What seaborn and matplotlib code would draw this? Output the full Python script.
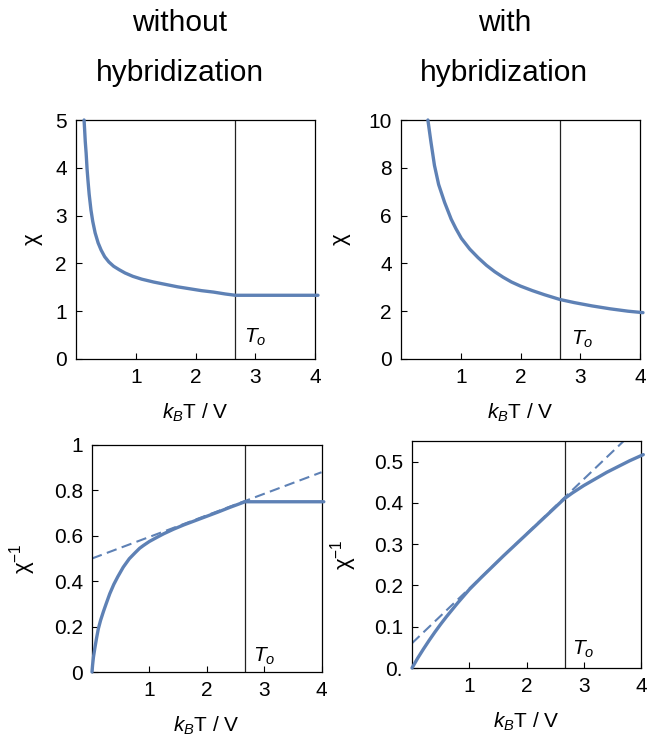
import numpy as np
import matplotlib
matplotlib.use('Agg')
import matplotlib.pyplot as plt
import seaborn as sns

# ------------------------------------------------------------
# Values
# ------------------------------------------------------------
T_O = 2.667

# chi, without hybridization (top left)
t_chi_wo = [0.135, 0.145, 0.155, 0.17, 0.185, 0.2, 0.22, 0.25, 0.28, 0.32,
            0.37, 0.42, 0.48, 0.55, 0.63, 0.72, 0.82, 0.95, 1.1, 1.3,
            1.5, 1.7, 1.9, 2.1, 2.3, 2.5, 2.667, 3.2, 4.05]
chi_wo = [5.0, 4.78, 4.55, 4.3, 3.98, 3.74, 3.45, 3.12, 2.88, 2.64,
          2.43, 2.28, 2.14, 2.03, 1.94, 1.87, 1.8, 1.73, 1.67, 1.61,
          1.56, 1.51, 1.47, 1.43, 1.40, 1.36, 1.333, 1.333, 1.333]

# chi, with hybridization (top right)
t_chi_w = [0.45, 0.5, 0.56, 0.63, 0.73, 0.84, 0.92, 1.01, 1.15, 1.29,
           1.43, 1.57, 1.71, 1.85, 2.0, 2.2, 2.4, 2.66, 2.9, 3.2,
           3.5, 3.8, 4.05]
chi_w = [10.0, 9.1, 8.1, 7.3, 6.55, 5.85, 5.45, 5.05, 4.6, 4.24,
         3.92, 3.65, 3.42, 3.22, 3.05, 2.86, 2.69, 2.49, 2.36, 2.22,
         2.1, 2.0, 1.94]

# inverse chi, without hybridization (bottom left)
t_inv_wo = [0, 0.01, 0.025, 0.05, 0.08, 0.11, 0.15, 0.2, 0.25, 0.31,
            0.38, 0.45, 0.545, 0.65, 0.75, 0.83, 0.9, 1.0, 1.13, 1.25,
            1.42, 1.6, 1.8, 2.0, 2.2, 2.4, 2.667, 3.2, 4.04]
inv_wo = [0, 0.03, 0.065, 0.106, 0.15, 0.19, 0.228, 0.267, 0.303, 0.345,
          0.386, 0.42, 0.462, 0.499, 0.525, 0.545, 0.558, 0.575, 0.593, 0.609,
          0.629, 0.648, 0.667, 0.686, 0.705, 0.725, 0.75, 0.75, 0.75]
t_fit_wo = [0, 4]
fit_wo = [0.5, 0.88]

# inverse chi, with hybridization (bottom right)
t_inv_w = [0, 0.1, 0.2, 0.3, 0.4, 0.5, 0.6, 0.7, 0.8, 0.9,
           1.0, 1.2, 1.4, 1.6, 1.8, 2.0, 2.2, 2.4, 2.66, 2.8,
           3.0, 3.2, 3.4, 3.6, 3.8, 4.04]
inv_w = [0, 0.024, 0.046, 0.067, 0.087, 0.106, 0.124, 0.141, 0.158, 0.174,
         0.19, 0.218, 0.245, 0.272, 0.298, 0.324, 0.35, 0.376, 0.41, 0.424,
         0.442, 0.458, 0.474, 0.488, 0.502, 0.517]
t_fit_w = [0, 4]
fit_w = [0.06, 0.59]

X_TICKS = [1, 2, 3, 4]

BLUE = '#5E81B5'

sns.set_theme(style='ticks')
plt.rcParams['font.family'] = ['Liberation Sans', 'DejaVu Sans']
plt.rcParams['mathtext.fontset'] = 'custom'
plt.rcParams['mathtext.rm'] = 'Liberation Sans'
plt.rcParams['mathtext.it'] = 'Liberation Sans:italic'
plt.rcParams['axes.linewidth'] = 0.9
plt.rcParams['axes.edgecolor'] = 'black'
plt.rcParams['text.color'] = 'black'
plt.rcParams['axes.labelcolor'] = 'black'

fig = plt.figure(figsize=(6.55, 7.38), dpi=100)

W, H = 655, 738
def box(l, t, r, b):
    return [l / W, (H - b) / H, (r - l) / W, (b - t) / H]

ax_tl = fig.add_axes(box(76, 120, 315, 359))
ax_tr = fig.add_axes(box(401, 120, 640, 359))
ax_bl = fig.add_axes(box(92, 445, 321.5, 672))
ax_br = fig.add_axes(box(412, 441, 641, 668))

XLAB = r'$k_B$T / V'
TICK_FS = 15


def style(ax, ylim, yticks, ylabels, ylab, ylab_x, xlab_y):
    ax.set_xlim(0, 4)
    ax.set_ylim(*ylim)
    ax.set_xticks(X_TICKS)
    ax.set_xticklabels([str(v) for v in X_TICKS])
    ax.set_yticks(yticks)
    ax.set_yticklabels(ylabels)
    ax.tick_params(direction='in', length=4, width=0.8, labelsize=TICK_FS,
                   pad=6.5, colors='black')
    for s in ax.spines.values():
        s.set_visible(True)
        s.set_color('black')
    ax.set_xlabel(XLAB, fontsize=TICK_FS)
    ax.set_ylabel(ylab, fontsize=TICK_FS + 1)
    ax.yaxis.set_label_coords(ylab_x, 0.5)
    ax.xaxis.set_label_coords(0.5, xlab_y)
    ax.axvline(T_O, color='#222222', lw=0.9, zorder=1)


def curve(ax, x, y):
    sns.lineplot(x=x, y=y, ax=ax, color=BLUE, linewidth=2.4, sort=False,
                 estimator=None, zorder=3, clip_on=False)


def fit(ax, x, y):
    sns.lineplot(x=x, y=y, ax=ax, color=BLUE, linewidth=1.5, sort=False,
                 estimator=None, zorder=2, linestyle=(0, (5, 2.6)))


# top left
curve(ax_tl, t_chi_wo, chi_wo)
style(ax_tl, (0, 5), [0, 1, 2, 3, 4, 5], ['0', '1', '2', '3', '4', '5'],
      'χ', -0.14, -0.18)
ax_tl.text(2.82, 0.45, r'$T_o$', fontsize=15, va='center', ha='left')

# top right
curve(ax_tr, t_chi_w, chi_w)
style(ax_tr, (0, 10), [0, 2, 4, 6, 8, 10], ['0', '2', '4', '6', '8', '10'],
      'χ', -0.21, -0.18)
ax_tr.text(2.84, 0.84, r'$T_o$', fontsize=15, va='center', ha='left')

# bottom left
fit(ax_bl, t_fit_wo, fit_wo)
curve(ax_bl, t_inv_wo, inv_wo)
style(ax_bl, (0, 1), [0, 0.2, 0.4, 0.6, 0.8, 1],
      ['0', '0.2', '0.4', '0.6', '0.8', '1'],
      'χ$^{-1}$', -0.235, -0.19)
ax_bl.text(2.81, 0.069, r'$T_o$', fontsize=15, va='center', ha='left')

# bottom right
fit(ax_br, t_fit_w, fit_w)
curve(ax_br, t_inv_w, inv_w)
style(ax_br, (0, 0.55), [0, 0.1, 0.2, 0.3, 0.4, 0.5],
      ['0.', '0.1', '0.2', '0.3', '0.4', '0.5'],
      'χ$^{-1}$', -0.232, -0.19)
ax_br.text(2.79, 0.044, r'$T_o$', fontsize=15, va='center', ha='left')

# column headings
fig.text(180 / W, (H - 31) / H, 'without', fontsize=21.5, ha='center', va='baseline')
fig.text(180 / W, (H - 81) / H, 'hybridization', fontsize=21.5, ha='center', va='baseline')
fig.text(505 / W, (H - 31) / H, 'with', fontsize=21.5, ha='center', va='baseline')
fig.text(504 / W, (H - 81) / H, 'hybridization', fontsize=21.5, ha='center', va='baseline')

fig.savefig('out.png', dpi=100)
